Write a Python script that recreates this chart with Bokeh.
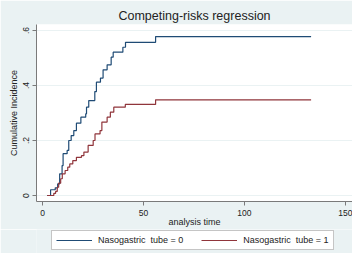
from bokeh.plotting import figure
from bokeh.layouts import column
from bokeh.models import Legend, LegendItem, FixedTicker, Range1d, Title
from bokeh.embed import file_html
from bokeh.resources import INLINE

# ---- data ----
t_tube0 = [2.3, 4.0, 6.3, 7.5, 8.5, 9.7, 10.2, 12.2, 13.0, 14.2, 15.5, 16.8, 19.0,
           21.4, 21.8, 22.9, 25.9, 26.7, 28.7, 30.0, 32.0, 34.0, 35.0, 39.8, 41.1,
           56.0, 133.0]
ci_tube0 = [0.0, 0.021, 0.028, 0.042, 0.079, 0.109, 0.152, 0.164, 0.200, 0.218,
            0.236, 0.263, 0.285, 0.297, 0.321, 0.345, 0.378, 0.412, 0.427, 0.457,
            0.475, 0.503, 0.521, 0.539, 0.557, 0.578, 0.578]

t_tube1 = [2.3, 5.6, 6.5, 7.3, 8.0, 9.0, 9.8, 11.2, 12.5, 13.5, 15.0, 16.8, 19.3,
           20.5, 22.6, 25.1, 26.0, 28.5, 29.4, 32.0, 33.6, 35.3, 41.0, 56.0, 133.0]
ci_tube1 = [0.0, 0.008, 0.015, 0.030, 0.045, 0.061, 0.079, 0.091, 0.103, 0.115,
            0.127, 0.139, 0.145, 0.158, 0.182, 0.200, 0.224, 0.236, 0.267, 0.285,
            0.303, 0.321, 0.331, 0.348, 0.348]

series_labels = ["Nasogastric  tube = 0", "Nasogastric  tube = 1"]
x_ticks = [0, 50, 100, 150]
y_ticks = [0, 0.2, 0.4, 0.6]
y_tick_labels = ["0", ".2", ".4", ".6"]
title_text = "Competing-risks regression"
x_title = "analysis time"
y_title = "Cumulative Incidence"

# ---- styling ----
BG = "#eaf2f3"
TXT = "#222222"
AX = "#7a7a7a"
FONT = "Liberation Sans"
C0 = "#1f4b75"
C1 = "#90353b"
W = 352

p = figure(width=W, height=229, output_backend="svg", toolbar_location=None,
           x_range=Range1d(-2.97, 153.5), y_range=Range1d(-0.0218, 0.6218),
           min_border_left=36, min_border_right=0, min_border_top=24,
           min_border_bottom=28)
p.background_fill_color = "white"
p.border_fill_color = BG
p.outline_line_color = None

p.title = Title(text=title_text, align="center", text_font=FONT,
                text_font_size="12.5px", text_font_style="normal",
                text_color=TXT, standoff=4)

step_kw = [dict(line_color=C0, line_width=1.2), dict(line_color=C1, line_width=1.2)]
r0 = p.step(t_tube0, ci_tube0, mode="after", **step_kw[0])
r1 = p.step(t_tube1, ci_tube1, mode="after", **step_kw[1])

# axes
for ax in (p.xaxis[0], p.yaxis[0]):
    ax.axis_line_color = AX
    ax.major_tick_line_color = AX
    ax.major_tick_out = 4
    ax.major_tick_in = 0
    ax.minor_tick_line_color = None
    ax.major_label_text_font = FONT
    ax.major_label_text_font_size = "8.5px"
    ax.major_label_text_color = TXT
    ax.axis_label_text_font = FONT
    ax.axis_label_text_font_size = "9px"
    ax.axis_label_text_font_style = "normal"
    ax.axis_label_text_color = TXT

p.xaxis.ticker = FixedTicker(ticks=x_ticks)
p.xaxis.axis_label = x_title
p.xaxis.major_label_standoff = 4
p.xaxis.axis_label_standoff = -2

p.yaxis.ticker = FixedTicker(ticks=y_ticks)
p.yaxis.major_label_overrides = dict(zip(y_ticks, y_tick_labels))
p.yaxis.major_label_orientation = "vertical"
p.yaxis.axis_label = y_title
p.yaxis.major_label_standoff = 3
p.yaxis.axis_label_standoff = 2

p.xgrid.grid_line_color = None
p.ygrid.ticker = FixedTicker(ticks=y_ticks)
p.ygrid.grid_line_color = BG
p.ygrid.grid_line_width = 1

# ---- legend strip below the plot (its own small figure, lines kept out of view) ----
lg = figure(width=W, height=24, output_backend="svg", toolbar_location=None,
            x_range=Range1d(-100, -99), y_range=Range1d(0, 1),
            x_axis_location=None, y_axis_location=None,
            min_border_left=0, min_border_right=0, min_border_top=0,
            min_border_bottom=0)
lg.background_fill_color = BG
lg.border_fill_color = BG
lg.outline_line_color = None
lg.grid.grid_line_color = None
k0 = lg.step(t_tube0, ci_tube0, mode="after", **step_kw[0])
k1 = lg.step(t_tube1, ci_tube1, mode="after", **step_kw[1])

legend = Legend(items=[LegendItem(label=series_labels[0], renderers=[k0]),
                       LegendItem(label=series_labels[1], renderers=[k1])],
                orientation="horizontal", location=(15, 3),
                border_line_color="#8c8c8c", border_line_width=1,
                background_fill_color="white", background_fill_alpha=1,
                label_text_font=FONT, label_text_font_size="9px",
                label_text_color=TXT,
                glyph_width=36, glyph_height=10, label_height=10,
                label_standoff=6, spacing=18, padding=4, margin=0)
lg.add_layout(legend, "center")

layout = column(p, lg, spacing=0)
open("out.html", "w").write(file_html(layout, INLINE))
